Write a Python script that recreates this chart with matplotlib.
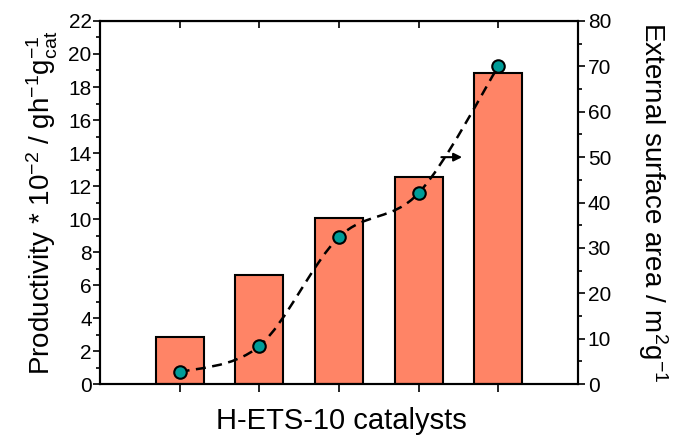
import numpy as np
import matplotlib
matplotlib.use('Agg')
import matplotlib.pyplot as plt
from matplotlib.path import Path
from matplotlib.patches import PathPatch

# ── DATA ──────────────────────────────────────────────────────────────
catalysts    = [1, 2, 3, 4, 5]
productivity = [2.85, 6.62, 10.04, 12.53, 18.83]   # * 10^-2 g h^-1 g_cat^-1
ext_surface  = [2.6, 8.4, 32.4, 42.1, 70.0]        # m^2 g^-1

BAR_COLOR    = '#FF8466'
DOT_COLOR    = '#009C98'

plt.rcParams['font.family'] = ['Liberation Sans', 'DejaVu Sans']
plt.rcParams['mathtext.fontset'] = 'custom'
plt.rcParams['mathtext.rm'] = 'Liberation Sans'
plt.rcParams['mathtext.it'] = 'Liberation Sans:italic'
plt.rcParams['mathtext.default'] = 'regular'


def smooth_path(xs, ys):
    """Catmull-Rom curve through the points, as cubic Bezier segments."""
    pts = np.column_stack([xs, ys]).astype(float)
    ext = np.vstack([pts[0], pts, pts[-1]])
    verts = [pts[0]]
    codes = [Path.MOVETO]
    for i in range(1, len(ext) - 2):
        p0, p1, p2, p3 = ext[i - 1], ext[i], ext[i + 1], ext[i + 2]
        c1 = p1 + (p2 - p0) / 6.0
        c2 = p2 - (p3 - p1) / 6.0
        verts += [c1, c2, p2]
        codes += [Path.CURVE4] * 3
    return Path(verts, codes)


fig = plt.figure(figsize=(6.76, 4.37), dpi=100)
ax = fig.add_axes([0.148, 0.121, 0.707, 0.831])

ax.bar(catalysts, productivity, width=0.6, color=BAR_COLOR,
       edgecolor='black', linewidth=1.5, zorder=2)
ax.set_xlim(0, 6)
ax.set_ylim(0, 22)
ax.set_yticks(np.arange(0, 23, 2))
ax.set_yticks(np.arange(0, 23, 1), minor=True)
ax.set_xticks(catalysts)
ax.set_xticklabels([])
ax.tick_params(axis='y', which='major', direction='out', length=5,
               width=1.2, labelsize=15, pad=1)
ax.tick_params(axis='y', which='minor', direction='out', length=3, width=1.2)
ax.tick_params(axis='x', which='major', direction='out', length=6,
               width=1.2, top=False)
for spine in ax.spines.values():
    spine.set_linewidth(1.5)

ax.set_ylabel(r'Productivity * 10$^{-2}$ / gh$^{-1}$g$_{cat}^{-1}$',
              fontsize=20, labelpad=6)

# x label sits at the very bottom of the figure
fig.text(0.505, 0.004, 'H-ETS-10 catalysts', fontsize=21,
         ha='center', va='bottom')

# top ticks pointing inward
axt = ax.secondary_xaxis('top')
axt.set_xticks(catalysts)
axt.set_xticklabels([])
axt.tick_params(direction='in', length=5, width=1.2)

ax2 = ax.twinx()
ax2.set_ylim(0, 80)
ax2.set_yticks(np.arange(0, 81, 10))
ax2.set_yticks(np.arange(0, 81, 5), minor=True)
ax2.tick_params(axis='y', which='major', direction='out', length=5,
                width=1.2, labelsize=15, pad=2)
ax2.tick_params(axis='y', which='minor', direction='out', length=3, width=1.2)
ax2.set_ylabel(r'External surface area / m$^{2}$g$^{-1}$', fontsize=20,
               rotation=270, labelpad=42)
for spine in ax2.spines.values():
    spine.set_linewidth(1.5)

curve = PathPatch(smooth_path(catalysts, ext_surface), transform=ax2.transData,
                  facecolor='none', edgecolor='black', linewidth=1.8,
                  linestyle=(0, (4, 2.6)), zorder=3)
ax2.add_patch(curve)
ax2.plot(catalysts, ext_surface, linestyle='none', marker='o', markersize=9,
         markerfacecolor=DOT_COLOR, markeredgecolor='black',
         markeredgewidth=1.5, zorder=4)

ax2.annotate('', xy=(4.58, 50), xytext=(4.25, 50),
             arrowprops=dict(arrowstyle='-|>', color='black', lw=1.5,
                             mutation_scale=12))

fig.savefig('out.png', dpi=100)
